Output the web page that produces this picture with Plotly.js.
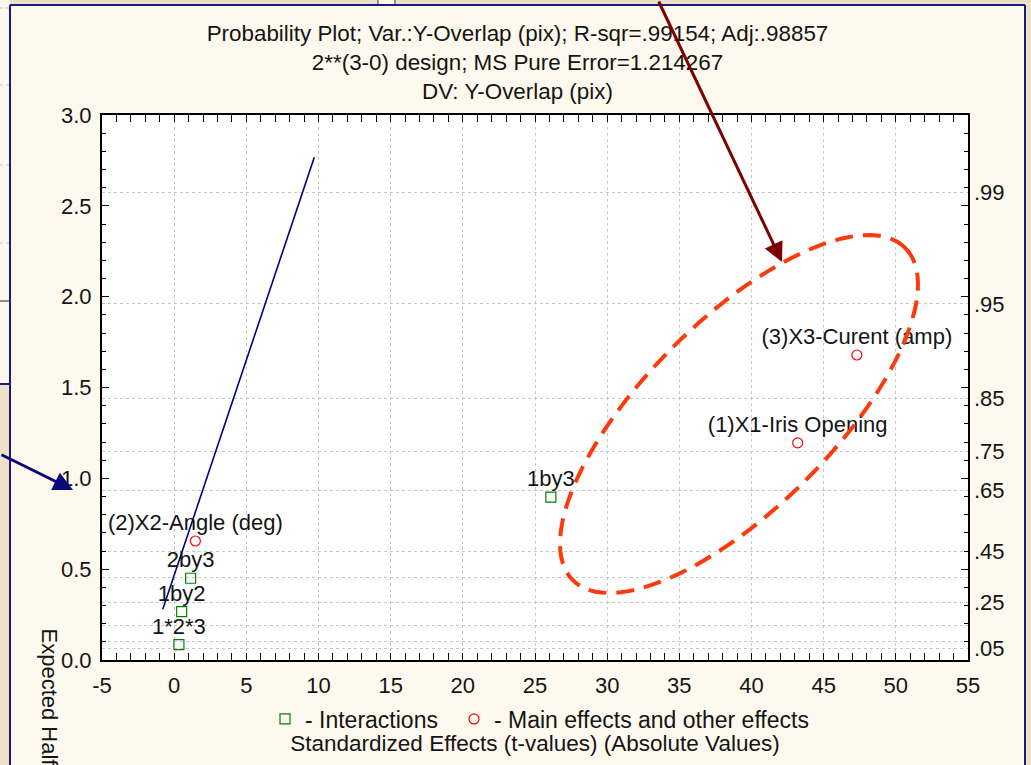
<!DOCTYPE html>
<html><head><meta charset="utf-8">
<script src="https://cdn.plot.ly/plotly-3.0.1.min.js"></script>
<style>html,body{margin:0;padding:0;background:#FEF9EE;overflow:hidden}#chart{width:1031px;height:765px}</style>
</head><body><div id="chart"></div>
<script>
// ---- data ----
const interactionLabels = ['1*2*3', '1by2', '2by3', '1by3'];
const interactionEffects = [0.33, 0.52, 1.14, 26.1];
const interactionExpected = [0.085, 0.266, 0.45, 0.897];
const mainLabels = ['(2)X2-Angle (deg)', '(1)X1-Iris Opening', '(3)X3-Curent (amp)'];
const mainEffects = [1.47, 43.2, 47.3];
const mainExpected = [0.655, 1.195, 1.679];
const fitLineEffects = [-0.79, 9.71];
const fitLineExpected = [0.279, 2.767];
const xTickValues = [-5, 0, 5, 10, 15, 20, 25, 30, 35, 40, 45, 50, 55];
const xTickLabels = ['-5', '0', '5', '10', '15', '20', '25', '30', '35', '40', '45', '50', '55'];
const probGrid = [0.05, 0.08, 0.15, 0.25, 0.35, 0.45, 0.65, 0.75, 0.85, 0.95, 0.99];
const probLabels = ['.05', '', '', '.25', '', '.45', '.65', '.75', '.85', '.95', '.99'];
const titleLines = [
  'Probability Plot; Var.:Y-Overlap (pix); R-sqr=.99154; Adj:.98857',
  '2**(3-0) design; MS Pure Error=1.214267',
  'DV: Y-Overlap (pix)'
];
const xTitle = 'Standardized Effects (t-values) (Absolute Values)';
const yTitle = 'Expected Half-Normal Values';

// inverse normal CDF (Acklam)
function normInv(p){
  const a=[-3.969683028665376e+01,2.209460984245205e+02,-2.759285104469687e+02,1.383577518672690e+02,-3.066479806614716e+01,2.506628277459239e+00];
  const b=[-5.447609879822406e+01,1.615858368580409e+02,-1.556989798598866e+02,6.680131188771972e+01,-1.328068155288572e+01];
  const c=[-7.784894002430293e-03,-3.223964580411365e-01,-2.400758277161838e+00,-2.549732539343734e+00,4.374664141464968e+00,2.938163982698783e+00];
  const d=[7.784695709041462e-03,3.224671290700398e-01,2.445134137142996e+00,3.754408661907416e+00];
  const pl=0.02425, ph=1-pl; let q,r;
  if(p<pl){q=Math.sqrt(-2*Math.log(p));return (((((c[0]*q+c[1])*q+c[2])*q+c[3])*q+c[4])*q+c[5])/((((d[0]*q+d[1])*q+d[2])*q+d[3])*q+1);}
  if(p>ph){q=Math.sqrt(-2*Math.log(1-p));return -(((((c[0]*q+c[1])*q+c[2])*q+c[3])*q+c[4])*q+c[5])/((((d[0]*q+d[1])*q+d[2])*q+d[3])*q+1);}
  q=p-0.5;r=q*q;return (((((a[0]*r+a[1])*r+a[2])*r+a[3])*r+a[4])*r+a[5])*q/(((((b[0]*r+b[1])*r+b[2])*r+b[3])*r+b[4])*r+1);
}
const halfNormal = p => normInv(0.5 + p/2);
const probPositions = probGrid.map(halfNormal);

// ---- page geometry ----
const W = 1031, H = 765;
const M = {l:102, r:63, t:115, b:105};
const PW = W - M.l - M.r, PH = H - M.t - M.b;
const px2x = px => (px - M.l) / PW;
const py2y = py => (H - M.b - py) / PH;

const FONT = 'Liberation Sans, Arial, sans-serif';
const INK = '#141414';
const BEIGE = '#ECE1C8';
const NAVY = '#1B1B7E';

// ellipse (hand-drawn emphasis) in pixel geometry
const ell = {cx:739, cy:414, a:235, b:94, ang:45};
let ellPath = '';
{
  const th = ell.ang*Math.PI/180, N = 120;
  for(let i=0;i<=N;i++){
    const t = 2*Math.PI*i/N;
    const ex = ell.a*Math.cos(t), ey = ell.b*Math.sin(t);
    const px = ell.cx + ex*Math.cos(th) + ey*Math.sin(th);
    const py = ell.cy - ex*Math.sin(th) + ey*Math.cos(th);
    ellPath += (i===0?'M':'L') + px2x(px).toFixed(5) + ',' + py2y(py).toFixed(5);
  }
  ellPath += 'Z';
}

function rectPx(x0,y0,x1,y1,fill){
  return {type:'rect', xref:'paper', yref:'paper', x0:px2x(x0), x1:px2x(x1), y0:py2y(y1), y1:py2y(y0),
    fillcolor:fill, line:{width:0}, layer:'below'};
}
function linePx(x0,y0,x1,y1,color,width,dash){
  return {type:'line', xref:'paper', yref:'paper', x0:px2x(x0), x1:px2x(x1), y0:py2y(y0), y1:py2y(y1),
    line:{color:color, width:width, dash:dash||'solid'}, layer:'below'};
}

const shapes = [
  rectPx(0,0,W,5,BEIGE),
  rectPx(0,0,10,H,BEIGE),
  rectPx(1025,0,W,H,BEIGE),
  rectPx(0,0,9,384,'#FBF7EE'),
  linePx(0,8,9,8,'#c4c4c4',1,'dot'),
  linePx(0,85,9,85,'#c4c4c4',1,'dot'),
  linePx(0,165,9,165,'#c4c4c4',1,'dot'),
  linePx(0,243,9,243,'#c4c4c4',1,'dot'),
  linePx(0,301,9,301,'#222222',1),
  linePx(0,384,9,384,NAVY,2),
  rectPx(378,0,395,5,'#FBF7EE'),
  linePx(378,0,378,5,'#333333',1),
  linePx(395,0,395,5,'#333333',1),
  linePx(10,5,1025,5,NAVY,2),
  linePx(10,5,10,H,NAVY,2),
  linePx(1025,5,1025,H,NAVY,2),
  {type:'path', xref:'paper', yref:'paper', path:ellPath, layer:'above',
   line:{color:'#FF3A0A', width:4, dash:'18px,10px'}, fillcolor:'rgba(0,0,0,0)'}
];

const labelFont = {family:FONT, size:22, color:INK};
const traces = [
  {x:fitLineEffects, y:fitLineExpected, mode:'lines', line:{color:'#000080', width:1.6},
   showlegend:false, hoverinfo:'skip'},
  {x:interactionEffects, y:interactionExpected, mode:'markers', name:'- Interactions',
   marker:{symbol:'square-open', size:10, color:'#008000', line:{width:1.2}}, legend:'legend', cliponaxis:false},
  {x:mainEffects, y:mainExpected, mode:'markers', name:'- Main effects and other effects',
   marker:{symbol:'circle-open', size:10, color:'#FF0000', line:{width:1.2}}, legend:'legend2', cliponaxis:false},
  {x:interactionEffects, y:interactionExpected, mode:'markers+text', text:interactionLabels, textposition:'top center',
   marker:{size:7, opacity:0}, textfont:labelFont, showlegend:false, hoverinfo:'skip', cliponaxis:false},
  {x:mainEffects, y:mainExpected, mode:'markers+text', text:mainLabels, textposition:'top center',
   marker:{size:7, opacity:0}, textfont:labelFont, showlegend:false, hoverinfo:'skip', cliponaxis:false},
  {x:[null], y:[null], yaxis:'y2', mode:'markers', showlegend:false, hoverinfo:'skip'}
];

const axisCommon = {
  showline:true, linecolor:'#000', linewidth:2, mirror:'allticks', zeroline:false,
  ticks:'inside', ticklen:7, tickwidth:1, tickcolor:'#000',
  tickfont:{family:FONT, size:22, color:INK}
};

const layout = {
  width:W, height:H, margin:M, autosize:false,
  paper_bgcolor:'#FEF9EE', plot_bgcolor:'#FFFFFF',
  font:{family:FONT, size:22, color:INK},
  title:{text:titleLines.join('<br>'), x:517.5/W, xref:'container', xanchor:'center',
         y:1-41/H, yref:'container', yanchor:'top', font:{family:FONT, size:22.4, color:INK}},
  xaxis:Object.assign({}, axisCommon, {
    range:[-5,55], tickmode:'array', tickvals:xTickValues, ticktext:xTickLabels,
    showgrid:true, gridcolor:'#c6c6c6', griddash:'dot', gridwidth:1,
    minor:{dtick:1, tick0:0, ticks:'inside', ticklen:4, tickcolor:'#000', showgrid:false},
    ticklabelstandoff:5,
    title:{text:xTitle, font:{family:FONT, size:22.5, color:INK}, standoff:38}
  }),
  yaxis:Object.assign({}, axisCommon, {
    range:[0,3], tick0:0, dtick:0.5, tickformat:'.1f', showgrid:false,
    minor:{dtick:0.1, ticks:'inside', ticklen:4, tickcolor:'#000', showgrid:false},
    ticklabelstandoff:4
  }),
  yaxis2:{overlaying:'y', side:'right', anchor:'x', range:[0,3], tickmode:'array',
    tickvals:probPositions, ticktext:probLabels, ticks:'', showline:false, zeroline:false,
    showgrid:true, gridcolor:'#c6c6c6', griddash:'dot', gridwidth:1,
    tickfont:{family:FONT, size:22, color:INK}, ticklabelstandoff:5},
  legend:{x:px2x(265), y:py2y(719), xanchor:'left', yanchor:'middle', orientation:'h',
    bgcolor:'rgba(0,0,0,0)', font:{family:FONT, size:23, color:INK}},
  legend2:{x:px2x(454), y:py2y(719), xanchor:'left', yanchor:'middle', orientation:'h',
    bgcolor:'rgba(0,0,0,0)', font:{family:FONT, size:23, color:INK}},
  shapes:shapes,
  annotations:[
    {xref:'paper', yref:'paper', x:px2x(49), y:py2y(626), text:yTitle, textangle:90,
     xanchor:'center', yanchor:'top', showarrow:false, font:{family:FONT, size:22, color:INK}},
    {xref:'paper', yref:'paper', x:px2x(782), y:py2y(262), ax:-124, ay:-266, text:'',
     showarrow:true, arrowhead:2, arrowsize:1.3, arrowwidth:3, arrowcolor:'#7F0000'},
    {xref:'paper', yref:'paper', x:px2x(73), y:py2y(490), ax:-75, ay:-36, text:'',
     showarrow:true, arrowhead:2, arrowsize:1.3, arrowwidth:3, arrowcolor:'#0A0A78'}
  ],
  showlegend:true
};

Plotly.newPlot('chart', traces, layout, {staticPlot:true, displayModeBar:false});
</script>
</body></html>
